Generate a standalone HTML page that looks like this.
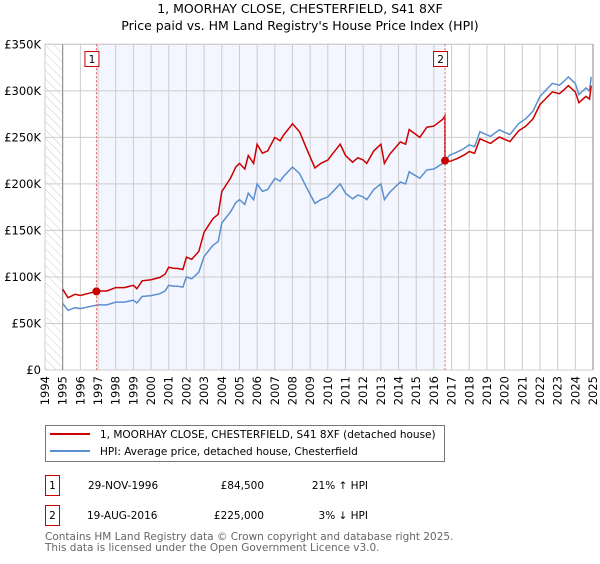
<!DOCTYPE html>
<html><head><meta charset="utf-8"><style>
body{margin:0;background:#fff;font-family:"DejaVu Sans","Liberation Sans",sans-serif;}
svg text{font-family:"DejaVu Sans","Liberation Sans",sans-serif;}
</style></head><body>
<svg id="c" width="600" height="560" xmlns="http://www.w3.org/2000/svg">
<defs><pattern id="hatch" width="6" height="6" patternUnits="userSpaceOnUse" patternTransform="rotate(-45)"><line x1="0" y1="0" x2="0" y2="6" stroke="#ccc" stroke-width="1"/></pattern></defs>
<text x="300" y="13" text-anchor="middle" font-size="12.5" fill="#000">1, MOORHAY CLOSE, CHESTERFIELD, S41 8XF</text>
<text x="300" y="30" text-anchor="middle" font-size="12.5" fill="#000">Price paid vs. HM Land Registry's House Price Index (HPI)</text>
<g id="plot"></g>
<g>
<rect x="45.5" y="425.5" width="399" height="36" fill="#fff" stroke="#777"/>
<line x1="50" y1="434" x2="90" y2="434" stroke="#cc0000" stroke-width="2"/>
<text x="100" y="438" font-size="10.5">1, MOORHAY CLOSE, CHESTERFIELD, S41 8XF (detached house)</text>
<line x1="50" y1="451" x2="90" y2="451" stroke="#5b8fd0" stroke-width="2"/>
<text x="100" y="455" font-size="10.5">HPI: Average price, detached house, Chesterfield</text>
</g>
<g font-size="10.5">
<rect x="45.5" y="475.5" width="14" height="20" fill="#fff" stroke="#cc0000"/>
<text x="52.5" y="489" text-anchor="middle">1</text>
<text x="88" y="489">29-NOV-1996</text>
<text x="264" y="489" text-anchor="end">£84,500</text>
<text x="368" y="489" text-anchor="end">21% ↑ HPI</text>
<rect x="45.5" y="505.5" width="14" height="20" fill="#fff" stroke="#cc0000"/>
<text x="52.5" y="519" text-anchor="middle">2</text>
<text x="87" y="519">19-AUG-2016</text>
<text x="264" y="519" text-anchor="end">£225,000</text>
<text x="368" y="519" text-anchor="end">3% ↓ HPI</text>
</g>
<text x="45" y="540" font-size="10.5" fill="#666">Contains HM Land Registry data © Crown copyright and database right 2025.</text>
<text x="45" y="551" font-size="10.5" fill="#666">This data is licensed under the Open Government Licence v3.0.</text>
</svg>
<script>
const hpiYears=[1995,1995.3,1995.7,1996,1996.5,1997,1997.5,1998,1998.5,1999,1999.2,1999.5,2000,2000.5,2000.8,2001,2001.3,2001.5,2001.8,2002,2002.3,2002.7,2003,2003.5,2003.8,2004,2004.5,2004.8,2005,2005.3,2005.5,2005.8,2006,2006.3,2006.6,2007,2007.3,2007.5,2008,2008.4,2008.8,2009.27,2009.6,2010,2010.3,2010.7,2011,2011.4,2011.7,2012,2012.2,2012.6,2013,2013.2,2013.5,2014.1,2014.4,2014.6,2015.2,2015.6,2016,2016.5,2016.9,2017.3,2017.7,2018,2018.3,2018.6,2019.2,2019.7,2020.3,2020.8,2021.2,2021.6,2022,2022.3,2022.7,2023.1,2023.4,2023.6,2024,2024.2,2024.6,2024.8,2024.9];
const hpiValues=[71.6,64,67,66,68,70,70,73,73,75,72,79,80,82,85,91,90,90,89,100,98,105,122,134,138,158,170,180,183,178,190,183,200,192,194,206,203,208,218,211,196,179,183,186,192,200,190,184,188,186,183,194,200,183,191,202,200,213,206,215,216,222,231,234,238,242,240,256,251,258,253,265,270,278,294,300,308,306,311,315,308,296,303,300,315];
const saleYears=[1996.91,2016.63];
const salePrices=[84.5,225];
const saleHpiDiffPct=[21,-3];
const saleLabels=["1","2"];
const yTicks=[0,50,100,150,200,250,300,350];
const yTickLabels=["£0","£50K","£100K","£150K","£200K","£250K","£300K","£350K"];
const xTicks=[];for(let y=1994;y<=2025;y++)xTicks.push(y);

const X0=45,X1=593,Y0=370,Y1=44.3;
const xs=y=>X0+(y-1994)/(2025-1994)*(X1-X0);
const ys=v=>Y0-v/350*(Y0-Y1);
const NS="http://www.w3.org/2000/svg";
const g=document.getElementById('plot');
function mk(t,a,p){const e=document.createElementNS(NS,t);for(const k in a)e.setAttribute(k,a[k]);(p||g).appendChild(e);return e;}
function hpiAt(t){for(let i=0;i<hpiYears.length-1;i++){if(t<=hpiYears[i+1]){const f=(t-hpiYears[i])/(hpiYears[i+1]-hpiYears[i]);return hpiValues[i]+f*(hpiValues[i+1]-hpiValues[i]);}}return hpiValues[hpiValues.length-1];}

let r=mk('rect',{x:X0,y:Y1,width:xs(1995)-X0,height:Y0-Y1,fill:'url(#hatch)'});


r=mk('rect',{x:xs(2024.95),y:Y1,width:X1-xs(2024.95),height:Y0-Y1,fill:'url(#hatch)'});


r=mk('rect',{x:xs(saleYears[0]),y:Y1,width:xs(saleYears[1])-xs(saleYears[0]),height:Y0-Y1,fill:'#f3f6fe'});


xTicks.forEach(y=>{const l=mk('line',{x1:xs(y),x2:xs(y),y1:Y1,y2:Y0,stroke:'#ccc'});


const t=mk('text',{x:0,y:0,'font-size':11.5,'text-anchor':'end',transform:`translate(${xs(y)+4},${Y0+6}) rotate(-90)`});t.textContent=y;

});
yTicks.forEach((v,i)=>{const l=mk('line',{x1:X0,x2:X1,y1:ys(v),y2:ys(v),stroke:'#ccc'});


const t=mk('text',{x:X0-4,y:ys(v)+4,'font-size':11.5,'text-anchor':'end'});t.textContent=yTickLabels[i];

});
mk('rect',{x:X0,y:Y1,width:X1-X0,height:Y0-Y1,fill:'none',stroke:'#ccc'});
mk('line',{x1:xs(1995),x2:xs(1995),y1:Y1,y2:Y0,stroke:'#888'});
mk('line',{x1:xs(2025),x2:xs(2025),y1:Y1,y2:Y0,stroke:'#888'});
// HPI line
let d=hpiYears.map((y,i)=>(i?'L':'M')+xs(y).toFixed(1)+','+ys(hpiValues[i]).toFixed(1)).join('');
let p=mk('path',{d:d,fill:'none',stroke:'#5b8fd0','stroke-width':1.5});


// property line indexed from sales
const r1=salePrices[0]/hpiAt(saleYears[0]);
const r2=1+saleHpiDiffPct[1]/100;
const base2=salePrices[1]/r2;
let pts=[];
hpiYears.forEach((y,i)=>{if(y<saleYears[1])pts.push([y,hpiValues[i]*r1]);});
pts.push([saleYears[1]-0.01,hpiAt(saleYears[1])*r1]);
pts.push([saleYears[1],salePrices[1]]);
const h2=hpiAt(saleYears[1]);
hpiYears.forEach((y,i)=>{if(y>saleYears[1])pts.push([y,salePrices[1]*hpiValues[i]/h2*r2+ (hpiValues[i]-hpiValues[i])]);});
d=pts.map((q,i)=>(i?'L':'M')+xs(q[0]).toFixed(1)+','+ys(q[1]).toFixed(1)).join('');
p=mk('path',{d:d,fill:'none',stroke:'#cc0000','stroke-width':1.5});


saleYears.forEach((y,i)=>{const l=mk('line',{x1:xs(y),x2:xs(y),y1:Y1,y2:Y0,stroke:'#e06060','stroke-dasharray':'2,2'});


const c=mk('circle',{cx:xs(y),cy:ys(salePrices[i]),r:4,fill:'#cc0000'});


const b=mk('rect',{x:xs(y)-11.5,y:51.5,width:14,height:15,fill:'#fff',stroke:'#cc0000'});


const t=mk('text',{x:xs(y)-4.5,y:63,'font-size':10.5,'text-anchor':'middle'});t.textContent=saleLabels[i];

});
</script>
</body></html>
